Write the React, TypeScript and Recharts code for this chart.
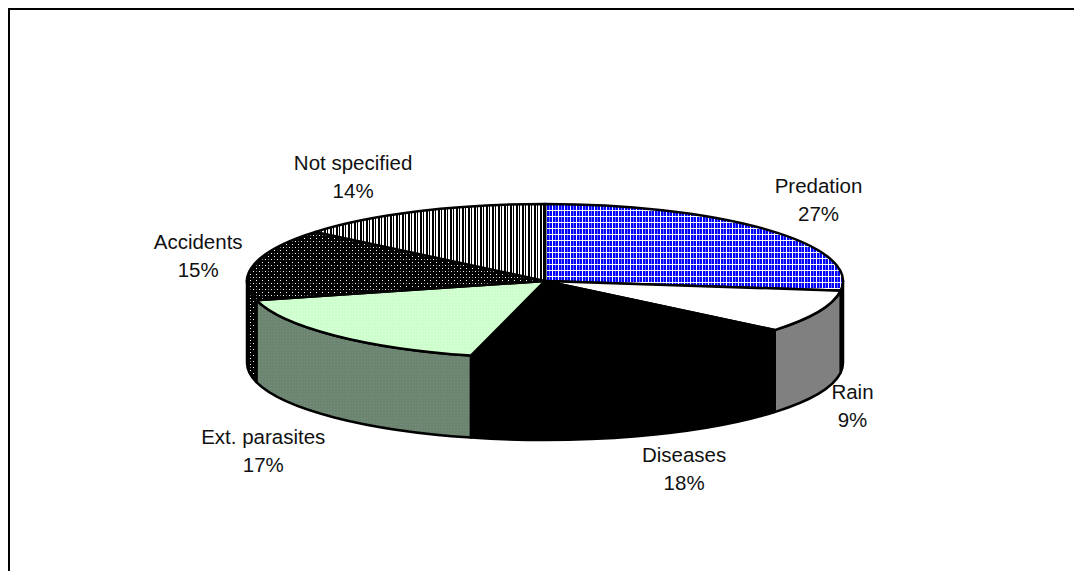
import { Pie, PieChart } from "recharts";

const categories = ["Predation", "Rain", "Diseases", "Ext. parasites", "Accidents", "Not specified"];
const shares = [27, 9, 18, 17, 15, 14];

const topFills = ["url(#gridBlue)", "#ffffff", "#000000", "url(#paleGreen)", "url(#dots)", "url(#stripes)"];
const wallFills = ["url(#gridBlue)", "#808080", "#000000", "url(#darkGreen)", "url(#dots)", "url(#stripes)"];

// label nudges away from the rim point of each slice
const labelNudges = [
  [50, -30],
  [34, 94],
  [47, 115],
  [-71, 116],
  [-56, -8],
  [-65, -34],
];

const data = categories.map((name, i) => ({ name, value: shares[i], top: topFills[i], wall: wallFills[i] }));

const TILT = 77 / 298;
const DEPTH = 82;
const RAD = Math.PI / 180;

const rimPoint = (cx: number, cy: number, r: number, angle: number) => ({
  x: cx + r * Math.cos(angle * RAD),
  y: cy - r * TILT * Math.sin(angle * RAD),
});

function TopSlice(props: any) {
  const { cx, cy, outerRadius: r, startAngle, endAngle, payload } = props;
  const a = rimPoint(cx, cy, r, startAngle);
  const b = rimPoint(cx, cy, r, endAngle);
  const large = Math.abs(startAngle - endAngle) > 180 ? 1 : 0;
  return (
    <path
      d={`M${cx},${cy} L${a.x},${a.y} A${r},${r * TILT} 0 ${large} 1 ${b.x},${b.y} Z`}
      fill={payload.top}
      stroke="#000"
      strokeWidth={2.5}
      strokeLinejoin="round"
    />
  );
}

// only the front half of the rim (-180..0 in recharts angles) has a visible wall
function WallSlice(props: any) {
  const { cx, cy, outerRadius: r, startAngle, endAngle, payload } = props;
  const from = Math.min(startAngle, 0);
  const to = Math.max(endAngle, -180);
  if (from <= to) return <g />;
  const a = rimPoint(cx, cy, r, from);
  const b = rimPoint(cx, cy, r, to);
  const ry = r * TILT;
  return (
    <path
      d={`M${a.x},${a.y} A${r},${ry} 0 0 1 ${b.x},${b.y} L${b.x},${b.y + DEPTH} A${r},${ry} 0 0 0 ${a.x},${a.y + DEPTH} Z`}
      fill={payload.wall}
      stroke="#000"
      strokeWidth={2.5}
      strokeLinejoin="round"
    />
  );
}

function SliceLabel(props: any) {
  const { cx, cy, outerRadius: r, midAngle, name, value, index } = props;
  const p = rimPoint(cx, cy, r, midAngle);
  const x = p.x + labelNudges[index][0];
  const y = p.y + labelNudges[index][1];
  return (
    <text x={x} textAnchor="middle" fontFamily="'Liberation Sans', Arial, sans-serif" fontSize={20.5} fill="#111">
      <tspan x={x} y={y - 7}>{name}</tspan>
      <tspan x={x} y={y + 21}>{value}%</tspan>
    </text>
  );
}

export default function App() {
  return (
    <div style={{ position: "absolute", left: 0, top: 0, width: 1074, height: 571, overflow: "hidden", background: "#fff" }}>
      <div style={{ position: "absolute", left: 8, top: 8, width: 1066, height: 563, borderTop: "2px solid #000", borderLeft: "2px solid #000" }} />
      <div style={{ position: "absolute", left: 0, top: 0 }}>
        <PieChart width={1074} height={571} margin={{ top: 0, right: 0, bottom: 0, left: 0 }}>
          <defs>
            <pattern id="gridBlue" patternUnits="userSpaceOnUse" width={6} height={6}>
              <rect width={6} height={6} fill="#0000ff" />
              <rect x={3} width={1} height={6} fill="#6f6fff" />
              <rect width={1} height={6} fill="#ffffff" />
              <rect width={6} height={1} fill="#ffffff" />
            </pattern>
            <pattern id="stripes" patternUnits="userSpaceOnUse" width={6} height={6}>
              <rect width={6} height={6} fill="#ffffff" />
              <rect x={0} width={2} height={6} fill="#000000" />
              <rect x={3} width={1} height={6} fill="#000000" />
            </pattern>
            <pattern id="dots" patternUnits="userSpaceOnUse" width={6} height={6}>
              <rect width={6} height={6} fill="#000000" />
              <rect x={1} y={1} width={1} height={1} fill="#ffffff" />
              <rect x={4} y={1} width={1} height={1} fill="#808080" />
              <rect x={4} y={4} width={1} height={1} fill="#ffffff" />
            </pattern>
            <pattern id="paleGreen" patternUnits="userSpaceOnUse" width={3} height={3}>
              <rect width={3} height={3} fill="#ccffcc" />
              <rect x={1} y={1} width={1} height={1} fill="#e6ffe6" />
            </pattern>
            <pattern id="darkGreen" patternUnits="userSpaceOnUse" width={3} height={3}>
              <rect width={3} height={3} fill="#6b8570" />
              <rect x={1} y={1} width={1} height={1} fill="#7a9080" />
            </pattern>
          </defs>
          <Pie
            data={data}
            dataKey="value"
            nameKey="name"
            cx={545}
            cy={281}
            outerRadius={298}
            startAngle={90}
            endAngle={-270}
            shape={WallSlice}
            label={false}
            labelLine={false}
            isAnimationActive={false}
          />
          <Pie
            data={data}
            dataKey="value"
            nameKey="name"
            cx={545}
            cy={281}
            outerRadius={298}
            startAngle={90}
            endAngle={-270}
            shape={TopSlice}
            label={SliceLabel}
            labelLine={false}
            isAnimationActive={false}
          />
        </PieChart>
      </div>
    </div>
  );
}
